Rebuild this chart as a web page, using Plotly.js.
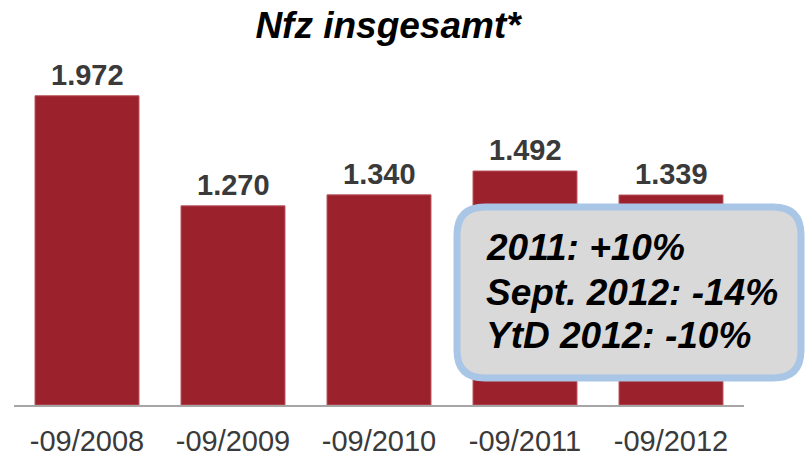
<!DOCTYPE html>
<html>
<head>
<meta charset="utf-8">
<script src="https://cdn.plot.ly/plotly-3.0.1.min.js"></script>
<style>html,body{margin:0;padding:0;background:#fff;}#chart{width:807px;height:456px;}</style>
</head>
<body>
<div id="chart"></div>
<script>
// Data
var categories = ["-09/2008", "-09/2009", "-09/2010", "-09/2011", "-09/2012"];
var values = [1972, 1270, 1340, 1492, 1339];
var titleText = "Nfz insgesamt*";
var calloutLines = ["2011: +10%", "Sept. 2012: -14%", "YtD 2012: -10%"];

function fmtDE(v) {
  var s = String(Math.round(v));
  return s.replace(/\B(?=(\d{3})+(?!\d))/g, ".");
}

var W = 807, H = 456;
var mL = 14, mR = 63, mT = 60, mB = 51;
var pw = W - mL - mR, ph = H - mT - mB;
function px2x(px) { return (px - mL) / pw; }
function py2y(py) { return (H - mB - py) / ph; }

var font = "Liberation Sans, Arial, sans-serif";

var annotations = categories.map(function (c, i) {
  return {
    x: c, y: values[i], xref: "x", yref: "y",
    text: "<b>" + fmtDE(values[i]) + "</b>",
    showarrow: false, yanchor: "bottom", xanchor: "center", yshift: 3,
    font: {family: font, size: 29, color: "#3a3a3a"}
  };
});

// rounded callout box (pixel geometry converted to paper)
var bx0 = 457, by0 = 207, bx1 = 801, by1 = 378, r = 28;
function P(x, y) { return px2x(x).toFixed(5) + "," + py2y(y).toFixed(5); }
var path = "M" + P(bx0 + r, by0) +
  " L" + P(bx1 - r, by0) +
  " Q" + P(bx1, by0) + " " + P(bx1, by0 + r) +
  " L" + P(bx1, by1 - r) +
  " Q" + P(bx1, by1) + " " + P(bx1 - r, by1) +
  " L" + P(bx0 + r, by1) +
  " Q" + P(bx0, by1) + " " + P(bx0, by1 - r) +
  " L" + P(bx0, by0 + r) +
  " Q" + P(bx0, by0) + " " + P(bx0 + r, by0) + " Z";

var lineCentersPx = [247, 292, 335];
calloutLines.forEach(function (t, i) {
  annotations.push({
    x: px2x(484), y: py2y(lineCentersPx[i]), xref: "paper", yref: "paper",
    text: "<b><i>" + t + "</i></b>", showarrow: false,
    xanchor: "left", yanchor: "middle",
    font: {family: font, size: 37, color: "#000000"}
  });
});

var trace = {
  type: "bar",
  x: categories,
  y: values,
  marker: {color: "#9b212d", line: {color: "#b8545d", width: 1}},
  hoverinfo: "none"
};

var layout = {
  width: W, height: H,
  margin: {l: mL, r: mR, t: mT, b: mB, pad: 0},
  paper_bgcolor: "#ffffff", plot_bgcolor: "#ffffff",
  showlegend: false,
  bargap: 0.288,
  title: {
    text: "<b><i>" + titleText + "</i></b>",
    font: {family: font, size: 37, color: "#000000"},
    xref: "container", x: 388 / W, xanchor: "center",
    yref: "container", y: 1 - 25 / H, yanchor: "middle"
  },
  xaxis: {
    type: "category",
    showgrid: false, zeroline: false,
    showline: true, linecolor: "#a6a6a6", linewidth: 1.5,
    ticks: "", ticklabelstandoff: 10,
    tickfont: {family: font, size: 29, color: "#3a3a3a"},
    fixedrange: true
  },
  yaxis: {
    range: [0, 2200], visible: false, showgrid: false, zeroline: false, fixedrange: true
  },
  shapes: [{
    type: "path", xref: "paper", yref: "paper", path: path,
    fillcolor: "#d9d9d9", line: {color: "#a9c6e6", width: 7}, layer: "above"
  }],
  annotations: annotations
};

Plotly.newPlot("chart", [trace], layout, {displayModeBar: false, staticPlot: true});
</script>
</body>
</html>
